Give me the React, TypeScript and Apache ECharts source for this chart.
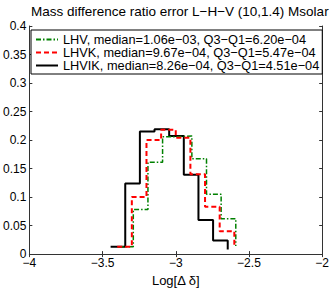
import React, { useEffect, useRef } from "react";
import * as echarts from "echarts";

const titleText = "Mass difference ratio error L\u2212H\u2212V (10,1.4) Msolar";
const xLabel = "Log[\u0394 \u03b4]";

const lhvName = "LHV, median=1.06e\u221203, Q3\u2212Q1=6.20e\u221204";
const lhvkName = "LHVK, median=9.67e\u221204, Q3\u2212Q1=5.47e\u221204";
const lhvikName = "LHVIK, median=8.26e\u221204, Q3\u2212Q1=4.51e\u221204";

// stair points (left bin edges) and relative frequencies
const lhvX = [-3.39, -3.29, -3.19, -3.09, -2.99, -2.89, -2.79, -2.69, -2.59];
const lhvY = [0.013, 0.078, 0.161, 0.206, 0.207, 0.167, 0.105, 0.062, 0.014];

const lhvkX = [-3.4, -3.3, -3.2, -3.1, -3.0, -2.9, -2.8, -2.7, -2.6];
const lhvkY = [0.013, 0.1, 0.2, 0.218, 0.204, 0.14, 0.083, 0.04, 0.015];

const lhvikX = [-3.445, -3.345, -3.245, -3.145, -3.045, -2.945, -2.845, -2.745, -2.645];
const lhvikY = [0.013, 0.124, 0.215, 0.219, 0.207, 0.139, 0.06, 0.024, 0.008];

const xTicks = { min: -4, max: -2, interval: 0.5 };
const yTicks = { min: 0, max: 0.4, interval: 0.05 };

const FONT = "'Liberation Sans', Arial, Helvetica, sans-serif";

const fmtX = (v: number) => (v < 0 ? "\u2212" + String(Math.abs(v)) : String(v));
const fmtY = (v: number) => String(+v.toFixed(2));

export default function App() {
  const ref = useRef<HTMLDivElement>(null);
  useEffect(() => {
    if (!ref.current) return;
    const chart = echarts.init(ref.current, undefined, { renderer: "svg" });
    const axisLine = { show: true, lineStyle: { color: "#333", width: 1 } };
    const tick = { show: true, inside: true, length: 3, lineStyle: { color: "#333" } };
    const mk = (xs: number[], ys: number[]) => xs.map((x, i) => [x, ys[i]]);
    chart.setOption({
      animation: false,
      backgroundColor: "#fff",
      title: {
        text: titleText,
        left: 31,
        top: 4,
        padding: 0,
        textStyle: { fontFamily: FONT, fontSize: 13.5, fontWeight: "normal", color: "#000" },
      },
      legend: {
        orient: "vertical",
        left: 31,
        top: 30,
        padding: [3, 3, 2, 4],
        itemWidth: 22,
        itemHeight: 10,
        itemGap: 0,
        borderColor: "#000",
        borderWidth: 1,
        backgroundColor: "#fff",
        itemStyle: { opacity: 0 },
        textStyle: { fontFamily: FONT, fontSize: 12.75, color: "#000", lineHeight: 11.6 },
        data: [lhvName, lhvkName, lhvikName],
      },
      grid: { left: 28, right: 7, top: 26, bottom: 32, containLabel: false },
      xAxis: [
        {
          type: "value",
          ...xTicks,
          position: "bottom",
          axisLine,
          axisTick: tick,
          splitLine: { show: false },
          axisLabel: { formatter: fmtX, fontFamily: FONT, fontSize: 12, color: "#000", margin: 3 },
          name: xLabel,
          nameLocation: "middle",
          nameGap: 14,
          nameTextStyle: { fontFamily: FONT, fontSize: 13, color: "#000" },
        },
        {
          type: "value",
          ...xTicks,
          position: "top",
          axisLine,
          axisTick: tick,
          splitLine: { show: false },
          axisLabel: { show: false },
        },
      ],
      yAxis: [
        {
          type: "value",
          ...yTicks,
          position: "left",
          axisLine,
          axisTick: tick,
          splitLine: { show: false },
          axisLabel: { formatter: fmtY, fontFamily: FONT, fontSize: 12, color: "#000", margin: 3 },
        },
        {
          type: "value",
          ...yTicks,
          position: "right",
          axisLine,
          axisTick: tick,
          splitLine: { show: false },
          axisLabel: { show: false },
        },
      ],
      series: [
        {
          name: lhvName,
          type: "line",
          step: "end",
          symbol: "none",
          data: mk(lhvX, lhvY),
          lineStyle: { color: "#008000", width: 1.5, type: [5, 2, 1.5, 2] },
          itemStyle: { color: "#008000" },
          z: 3,
        },
        {
          name: lhvkName,
          type: "line",
          step: "end",
          symbol: "none",
          data: mk(lhvkX, lhvkY),
          lineStyle: { color: "#ff0000", width: 2, type: [5, 3] },
          itemStyle: { color: "#ff0000" },
          z: 4,
        },
        {
          name: lhvikName,
          type: "line",
          step: "end",
          symbol: "none",
          data: mk(lhvikX, lhvikY),
          lineStyle: { color: "#000", width: 2, type: "solid" },
          itemStyle: { color: "#000" },
          z: 2,
        },
      ],
    });
    return () => chart.dispose();
  }, []);
  return (
    <div
      ref={ref}
      style={{ position: "fixed", left: 0, top: 0, width: 332, height: 292, background: "#fff" }}
    />
  );
}
